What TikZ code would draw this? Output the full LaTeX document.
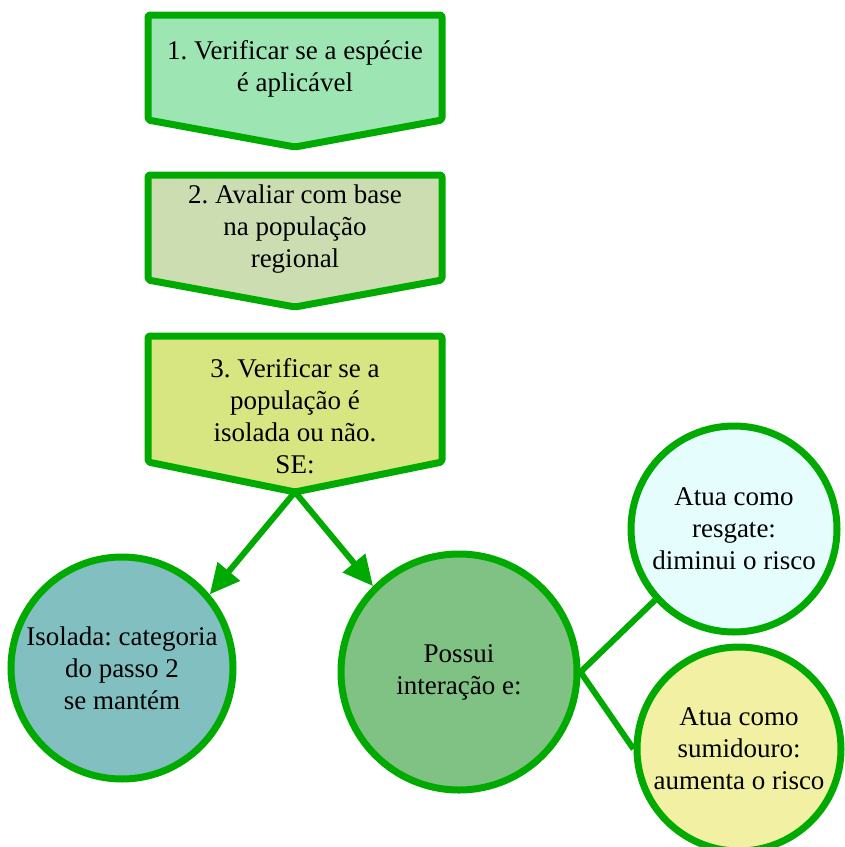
\documentclass[tikz,border=0pt]{standalone}
\usepackage{fontspec}
\setmainfont{Liberation Serif}
\usetikzlibrary{arrows.meta}
\definecolor{gline}{HTML}{00AA00}
\definecolor{fone}{HTML}{9DE6B3}
\definecolor{ftwo}{HTML}{CCDDB2}
\definecolor{fthree}{HTML}{D7E680}
\definecolor{fleft}{HTML}{81BFC0}
\definecolor{fmid}{HTML}{80C283}
\definecolor{ftr}{HTML}{E6FDFD}
\definecolor{fbr}{HTML}{F2F0A2}
\frenchspacing
\tikzset{
  chevbox/.style={draw=gline, line width=7pt, line join=round, rounded corners=2pt},
  txt/.style={align=center, font=\fontsize{27}{32}\selectfont, inner sep=0pt},
  bubble/.style={circle, draw=gline, line width=7pt, inner sep=0pt, align=center, font=\fontsize{27}{32}\selectfont},
  arr/.style={draw=gline, line width=6pt, -{Triangle[length=30pt,width=28pt]}},
  link/.style={draw=gline, line width=6pt}
}
\begin{document}
\begin{tikzpicture}[x=1pt,y=-1pt]
\useasboundingbox (0,0) rectangle (845,847);
% boxes
\draw[chevbox, fill=fone] (148,15) -- (442,15) -- (442,120) -- (295,147) -- (148,120) -- cycle;
\node[txt] (b1) at (295,69) {1. Verificar se a espécie\\é aplicável};
\draw[chevbox, fill=ftwo] (148,175) -- (442,175) -- (442,280) -- (295,307) -- (148,280) -- cycle;
\node[txt] (b2) at (295,229) {2. Avaliar com base\\na população\\regional};
\draw[chevbox, fill=fthree] (148,336) -- (442,336) -- (442,462) -- (295,492) -- (148,462) -- cycle;
\node[txt] (b3) at (295,416) {3. Verificar se a\\população é\\isolada ou não.\\SE:};
\coordinate (p3) at (295,492);
% circles
\node[bubble, fill=fleft, minimum size=222pt] (cl) at (122,668) {Isolada: categoria\\do passo 2\\se mantém};
\node[bubble, fill=fmid, minimum size=236pt] (cm) at (459,672) {Possui\\interação e:};
\node[bubble, fill=ftr, minimum size=206pt] (ctr) at (734,529) {Atua como\\resgate:\\diminui o risco};
\node[bubble, fill=fbr, minimum size=204pt] (cbr) at (739,749) {Atua como\\sumidouro:\\aumenta o risco};
% connectors
\draw[arr] (p3) -- (cl.40);
\draw[arr] (p3) -- (cm.135);
\draw[link] (cm.east) -- (ctr.222);
\draw[link] (cm.east) -- (cbr.west);
\end{tikzpicture}
\end{document}
